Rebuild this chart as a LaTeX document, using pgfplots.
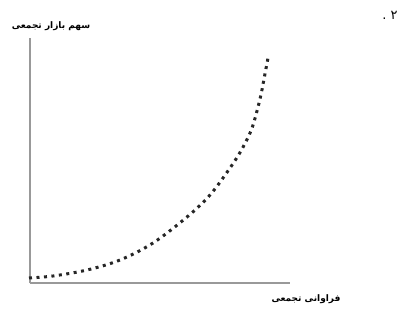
\documentclass[border=0pt]{standalone}
\usepackage{pgfplots}
\pgfplotsset{compat=1.18}
\usepackage{fontspec}
\newfontfamily\arabicfont[Script=Arabic]{DejaVu Sans}
\TeXXeTstate=1
\begin{document}
\begin{tikzpicture}[x=1pt,y=1pt]
\path (0,0) rectangle (404,308);
\begin{axis}[
  at={(30pt,25pt)}, anchor=origin,
  scale only axis, width=260pt, height=245pt,
  xmin=0, xmax=260, ymin=0, ymax=245,
  axis lines=left,
  axis line style={draw=gray!80, line width=2pt, -},
  xtick=\empty, ytick=\empty,
  clip=false,
]
\addplot[black!85, line width=3pt, dash pattern=on 3pt off 4.5pt, smooth, tension=0.55] coordinates {
(-1,5) (23,7) (57,13) (90,23) (123,40) (157,66) (180,88) (200,115) (212,134) (222,155) (230,184) (234,204) (238,225)
};
\end{axis}
\node[font=\arabicfont\bfseries\fontsize{9}{10}\selectfont] at (51,282) {\beginR سهم بازار تجمعی\endR};
\node[font=\arabicfont\bfseries\fontsize{9}{10}\selectfont] at (306,9) {\beginR فراوانی تجمعی\endR};
\node[font=\arabicfont\fontsize{13}{14}\selectfont] at (390,293) {\beginR ۲ .\endR};
\end{tikzpicture}
\end{document}
